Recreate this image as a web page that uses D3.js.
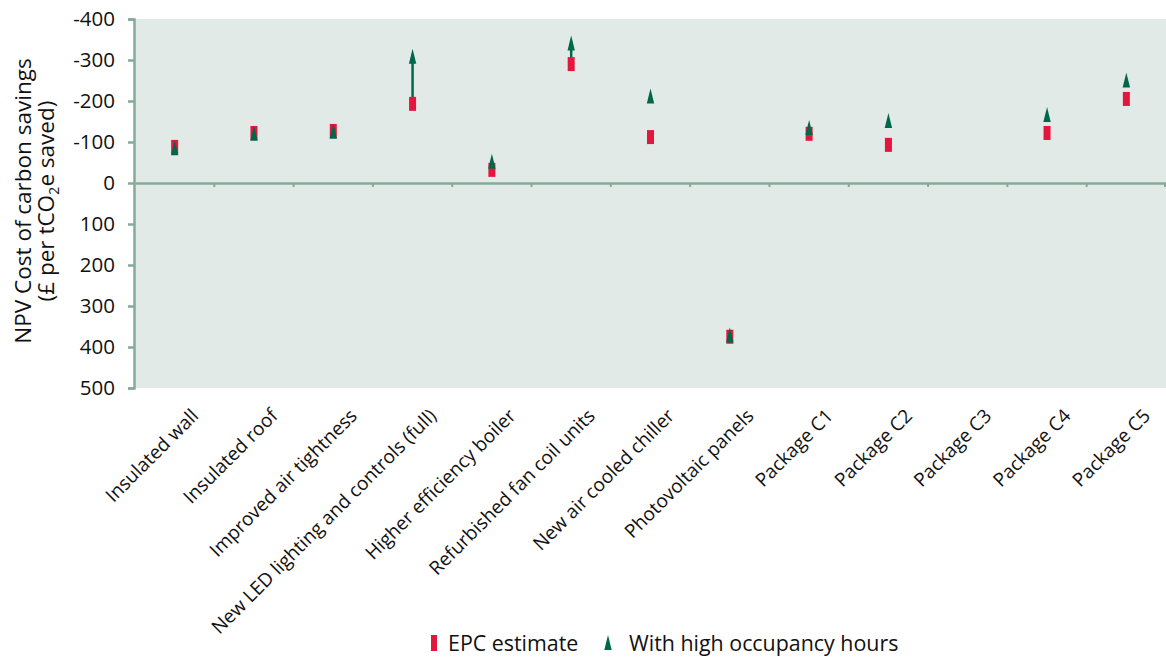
<!DOCTYPE html>
<html><head><meta charset="utf-8">
<script src="https://cdn.jsdelivr.net/npm/d3@7"></script>
<style>body{margin:0;background:#fff;} text{font-family:"Open Sans","Noto Sans",sans-serif;fill:#111;}</style>
</head><body>
<svg id="chart" width="1166" height="659"></svg>
<script>
const categories = ["Insulated wall","Insulated roof","Improved air tightness","New LED lighting and controls (full)","Higher efficiency boiler","Refurbished fan coil units","New air cooled chiller","Photovoltaic panels","Package C1","Package C2","Package C3","Package C4","Package C5"];
const epcEstimate = [-88, -122, -127, -193, -32, -290, -112, 375, -120, -93, null, -122, -205];
const highOccupancy = [-85, -120, -125, -308, -52, -340, -211, 372, -134, -151, null, -166, -250];
const showArrow = [false, false, false, true, false, true, false, false, false, false, false, false, false];
const yTicks = [-400, -300, -200, -100, 0, 100, 200, 300, 400, 500];
const seriesNames = ["EPC estimate", "With high occupancy hours"];

(function () {
const RED = "#e3173e", GREEN = "#00674b", AXIS = "#86aa9a", BG = "#e1eae6";
const FONT = '"Open Sans","Noto Sans",sans-serif';
const svg = d3.select("#chart");
const pLeft = 135, pRight = 1166, pTop = 19, pBottom = 388;
const x = d3.scaleBand().domain(categories).range([pLeft, pRight]);
const y = d3.scaleLinear().domain([-400, 500]).range([pTop, pBottom]);

svg.append("rect").attr("x", pLeft).attr("y", pTop).attr("width", pRight - pLeft).attr("height", pBottom - pTop).attr("fill", BG);

// y axis
const yAxis = svg.append("g").attr("transform", `translate(${pLeft - 1},0)`)
  .call(d3.axisLeft(y).tickValues(yTicks).tickSize(6).tickPadding(13).tickFormat(d => String(d)));
yAxis.select(".domain").attr("stroke", AXIS).attr("stroke-width", 2.5);
yAxis.selectAll(".tick line").attr("stroke", AXIS).attr("stroke-width", 2.5);
yAxis.selectAll(".tick text").attr("font-size", 20.5).attr("fill", "#111").style("font-family", FONT);

// zero axis with category ticks
const xAxis = svg.append("g").attr("transform", `translate(0,${y(0)})`)
  .call(d3.axisBottom(x).tickSize(0).tickFormat(""));
xAxis.select(".domain").attr("stroke", AXIS).attr("stroke-width", 2.5);
xAxis.selectAll(".tick").remove();
const bounds = categories.slice(1).map(c => x(c)).concat([pRight - 1]);
xAxis.selectAll(".ctick").data(bounds).join("line").attr("class", "ctick")
  .attr("x1", d => d).attr("x2", d => d).attr("y1", 0).attr("y2", 4)
  .attr("stroke", AXIS).attr("stroke-width", 2);

// category labels
svg.append("g").selectAll("text").data(categories).join("text")
  .attr("transform", d => `translate(${x(d) + x.bandwidth() / 2 + 25},${pBottom + 29}) rotate(-45)`)
  .attr("text-anchor", "end").attr("font-size", 19).text(d => d);

// y title
const title = svg.append("text").attr("transform", "translate(31,201) rotate(-90)")
  .attr("text-anchor", "middle").attr("font-size", 22.5);
title.append("tspan").attr("x", 0).attr("y", 0).text("NPV Cost of carbon savings");
const t2 = title.append("tspan").attr("x", 0).attr("dy", 23);
t2.append("tspan").text("(£ per tCO");
t2.append("tspan").attr("font-size", 14.5).attr("dy", 5).text("2");
t2.append("tspan").attr("dy", -5).text("e saved)");

const cx = d => x(d) + x.bandwidth() / 2;
const pts = categories.map((c, i) => ({c, e: epcEstimate[i], h: highOccupancy[i], a: showArrow[i]})).filter(d => d.e !== null);

// arrows
svg.append("g").selectAll("line").data(pts.filter(d => d.a)).join("line")
  .attr("x1", d => cx(d.c)).attr("x2", d => cx(d.c))
  .attr("y1", d => y(d.e)).attr("y2", d => y(d.h))
  .attr("stroke", GREEN).attr("stroke-width", 2.5);

// EPC markers
svg.append("g").selectAll("rect").data(pts).join("rect")
  .attr("x", d => cx(d.c) - 3.5).attr("y", d => y(d.e) - 7)
  .attr("width", 7).attr("height", 14).attr("fill", RED);

// High occupancy markers
const tri = (px, py) => `M${px},${py - 8}L${px + 3.7},${py + 7}L${px - 3.7},${py + 7}Z`;
svg.append("g").selectAll("path").data(pts).join("path")
  .attr("d", d => tri(cx(d.c), y(d.h))).attr("fill", GREEN);

// legend
const lg = svg.append("g");
lg.append("rect").attr("x", 431).attr("y", 635).attr("width", 6).attr("height", 16).attr("fill", RED);
lg.append("text").attr("x", 448).attr("y", 651).attr("font-size", 21.4).text(seriesNames[0]);
lg.append("path").attr("d", tri(608, 643)).attr("fill", GREEN);
lg.append("text").attr("x", 629).attr("y", 651).attr("font-size", 21.4).text(seriesNames[1]);
})();
</script>
</body></html>
